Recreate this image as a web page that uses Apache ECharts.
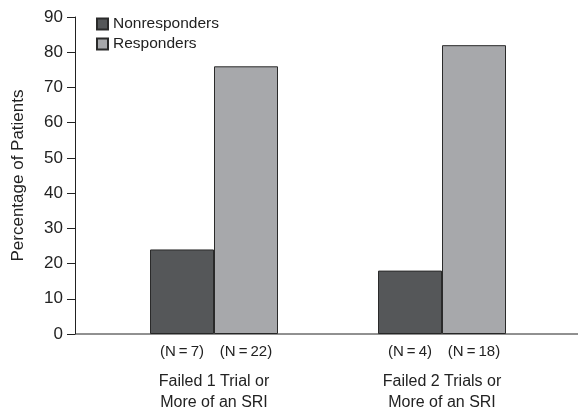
<!DOCTYPE html>
<html>
<head>
<meta charset="utf-8">
<script src="https://cdn.jsdelivr.net/npm/echarts@6/dist/echarts.min.js"></script>
<style>html,body{margin:0;padding:0;background:#fff}#c{width:578px;height:413px}</style>
</head>
<body>
<div id="c"></div>
<script>
var categories = ['Failed 1 Trial or\nMore of an SRI', 'Failed 2 Trials or\nMore of an SRI'];
var nonresponders = [24, 18];
var responders = [76, 82];
var nNonresponders = [7, 4];
var nResponders = [22, 18];
var yTicks = [0, 10, 20, 30, 40, 50, 60, 70, 80, 90];

var FONT = 'Liberation Sans, Arial, Helvetica, sans-serif';
var chart = echarts.init(document.getElementById('c'), null, {renderer: 'canvas'});
var nLabel = function (arr) {
  return {
    show: true, position: 'bottom', distance: 10,
    fontFamily: FONT, fontSize: 15, color: '#222',
    formatter: function (p) { return '(N\u2009=\u2009' + arr[p.dataIndex] + ')'; }
  };
};
chart.setOption({
  animation: false,
  backgroundColor: '#fff',
  textStyle: {fontFamily: FONT},
  grid: {left: 100, right: 22, top: 17, bottom: 79, containLabel: false},
  legend: {
    orient: 'vertical', left: 91, top: 11, itemWidth: 11, itemHeight: 11, itemGap: 4,
    icon: 'rect', selectedMode: false,
    textStyle: {fontFamily: FONT, fontSize: 15.5, color: '#222'},
    data: ['Nonresponders', 'Responders']
  },
  xAxis: {
    type: 'category', data: categories,
    axisLine: {show: false},
    axisTick: {show: false},
    axisLabel: {margin: 37, fontFamily: FONT, fontSize: 16, color: '#222', lineHeight: 21}
  },
  yAxis: {
    type: 'value', min: 0, max: 90, interval: 10, offset: 25,
    name: 'Percentage of Patients', nameLocation: 'middle', nameGap: 48,
    nameTextStyle: {fontFamily: FONT, fontSize: 17, color: '#222'},
    axisLine: {show: true, lineStyle: {color: '#222', width: 1}},
    axisTick: {show: true, length: 8, lineStyle: {color: '#222'}},
    axisLabel: {margin: 12, fontFamily: FONT, fontSize: 17, color: '#222',
      formatter: function (v) { return yTicks.indexOf(v) >= 0 ? String(v) : ''; }},
    splitLine: {show: false}
  },
  series: [
    {name: 'Nonresponders', type: 'bar', data: nonresponders, barWidth: 64, barGap: '0%',
     itemStyle: {color: '#555759', borderColor: '#2a2a2a', borderWidth: 1},
     label: nLabel(nNonresponders)},
    {name: 'Responders', type: 'bar', data: responders, barWidth: 64, barGap: '0%',
     itemStyle: {color: '#a7a8ab', borderColor: '#2a2a2a', borderWidth: 1},
     label: nLabel(nResponders)}
  ]
});
var y0 = chart.convertToPixel({yAxisIndex: 0}, 0);
chart.setOption({
  graphic: [{type: 'line', shape: {x1: 75, y1: y0, x2: 578, y2: y0},
    style: {stroke: '#222', lineWidth: 1}, z: 10}]
});
</script>
</body>
</html>
